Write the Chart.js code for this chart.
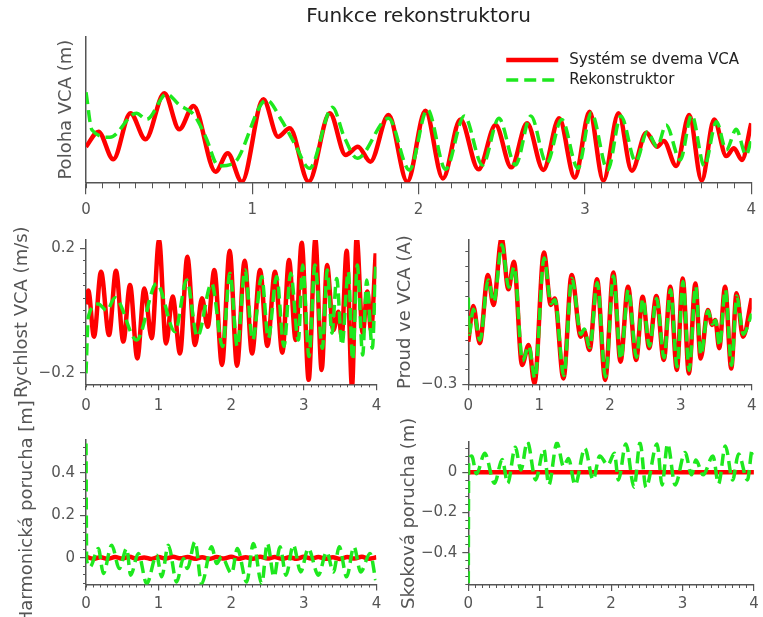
<!DOCTYPE html>
<html>
<head>
<meta charset="utf-8">
<script src="https://cdn.jsdelivr.net/npm/chart.js@4.4.0/dist/chart.umd.min.js"></script>
<style>
  body { margin: 0; background: #fff; }
  #wrap { position: relative; width: 763px; height: 617px; }
  canvas { position: absolute; left: 0; top: 0; }
</style>
</head>
<body>
<div id="wrap">
  <canvas id="c1" width="763" height="617"></canvas>
  <canvas id="c2" width="763" height="617"></canvas>
  <canvas id="c3" width="763" height="617"></canvas>
  <canvas id="c4" width="763" height="617"></canvas>
  <canvas id="c5" width="763" height="617"></canvas>
</div>
<script>
// tick labels
const xMajor = [0, 1, 2, 3, 4];
const velTicks = [-0.2, 0.2];
const curTicks = [-0.3];
const harmTicks = [0, 0.2, 0.4];
const stepTicks = [-0.4, -0.2, 0];

// Poloha VCA
const posTRed = [0, 0.075, 0.164, 0.267, 0.358, 0.471, 0.561, 0.646, 0.779, 0.852, 0.937, 1.066, 1.155, 1.225, 1.339, 1.466, 1.561, 1.635, 1.710, 1.819, 1.932, 2.041, 2.146, 2.251, 2.360, 2.463, 2.557, 2.652, 2.750, 2.845, 2.939, 3.028, 3.111, 3.202, 3.282, 3.369, 3.434, 3.474, 3.549, 3.627, 3.702, 3.777, 3.850, 3.896, 3.944, 4.0];
const posRed = [0.245, 0.348, 0.158, 0.475, 0.296, 0.613, 0.365, 0.525, 0.073, 0.2, 0.004, 0.571, 0.314, 0.372, 0.004, 0.475, 0.188, 0.245, 0.142, 0.463, 0.004, 0.493, 0.027, 0.433, 0.089, 0.394, 0.103, 0.406, 0.085, 0.44, 0.032, 0.486, 0.011, 0.475, 0.08, 0.341, 0.245, 0.284, 0.112, 0.463, 0.011, 0.433, 0.181, 0.234, 0.153, 0.406];
const posTGreen = [0, 0.036, 0.144, 0.303, 0.365, 0.485, 0.561, 0.65, 0.719, 0.798, 0.888, 1.086, 1.175, 1.254, 1.344, 1.482, 1.552, 1.631, 1.819, 1.945, 2.053, 2.162, 2.275, 2.384, 2.483, 2.582, 2.675, 2.770, 2.860, 2.958, 3.038, 3.137, 3.216, 3.306, 3.375, 3.434, 3.488, 3.573, 3.642, 3.718, 3.791, 3.850, 3.910, 3.969, 4.0];
const posGreen = [0.62, 0.36, 0.31, 0.475, 0.433, 0.608, 0.532, 0.463, 0.314, 0.112, 0.131, 0.566, 0.429, 0.268, 0.096, 0.516, 0.314, 0.165, 0.44, 0.085, 0.502, 0.089, 0.456, 0.119, 0.44, 0.119, 0.456, 0.131, 0.433, 0.096, 0.479, 0.085, 0.456, 0.142, 0.348, 0.245, 0.394, 0.153, 0.463, 0.112, 0.417, 0.222, 0.365, 0.188, 0.291];

// Rychlost VCA
const velTRed = [0, 0.032, 0.11, 0.207, 0.317, 0.413, 0.514, 0.606, 0.707, 0.804, 0.905, 1.006, 1.102, 1.194, 1.295, 1.396, 1.501, 1.598, 1.676, 1.768, 1.873, 1.979, 2.08, 2.185, 2.287, 2.397, 2.498, 2.603, 2.704, 2.796, 2.888, 2.971, 3.067, 3.159, 3.246, 3.32, 3.407, 3.476, 3.522, 3.59, 3.664, 3.728, 3.811, 3.875, 3.926, 3.99];
const velRed = [0.02, 0.064, -0.084, 0.125, -0.079, 0.128, -0.1, 0.082, -0.154, 0.071, -0.089, 0.227, -0.106, 0.045, -0.138, 0.173, -0.111, 0.039, -0.052, 0.13, -0.175, 0.192, -0.178, 0.16, -0.138, 0.13, -0.114, 0.125, -0.136, 0.162, -0.095, 0.218, -0.223, 0.229, -0.191, 0.146, -0.063, -0.004, -0.084, 0.192, -0.245, 0.235, -0.073, 0.061, -0.063, 0.184];
const velTGreen = [0, 0.032, 0.17, 0.285, 0.4, 0.698, 0.973, 1.226, 1.387, 1.534, 1.731, 1.882, 1.983, 2.084, 2.19, 2.296, 2.42, 2.511, 2.626, 2.727, 2.819, 2.925, 2.984, 3.072, 3.154, 3.255, 3.324, 3.388, 3.453, 3.526, 3.613, 3.673, 3.737, 3.811, 3.866, 3.944, 3.99];
const velGreen = [-0.202, -0.02, 0.021, 0.0, 0.041, -0.095, 0.087, -0.068, 0.098, -0.084, 0.087, -0.116, 0.12, -0.116, 0.13, -0.095, 0.109, -0.089, 0.109, -0.116, 0.12, -0.095, 0.146, -0.148, 0.146, -0.121, 0.13, -0.073, 0.103, -0.111, 0.125, -0.159, 0.146, -0.143, 0.098, -0.121, 0.146];

// Proud ve VCA
const curTRed = [0, 0.07, 0.162, 0.277, 0.355, 0.47, 0.566, 0.644, 0.759, 0.851, 0.934, 1.067, 1.164, 1.219, 1.343, 1.458, 1.587, 1.633, 1.711, 1.817, 1.932, 2.047, 2.148, 2.254, 2.369, 2.46, 2.552, 2.654, 2.759, 2.851, 2.943, 3.026, 3.113, 3.205, 3.279, 3.38, 3.44, 3.486, 3.541, 3.624, 3.711, 3.785, 3.877, 4.0];
const curRed = [-0.155, -0.034, -0.16, 0.072, -0.03, 0.196, 0.023, 0.117, -0.234, -0.166, -0.297, 0.148, -0.03, -0.008, -0.28, 0.072, -0.138, -0.117, -0.183, 0.057, -0.285, 0.08, -0.223, 0.032, -0.217, -0.002, -0.177, 0.0, -0.217, 0.032, -0.251, 0.06, -0.263, 0.043, -0.212, -0.047, -0.098, -0.081, -0.177, 0.032, -0.246, 0.01, -0.138, -0.007];
const curTGreen = [0, 0.012, 0.07, 0.165, 0.28, 0.36, 0.475, 0.57, 0.648, 0.765, 0.855, 0.94, 1.07, 1.168, 1.222, 1.347, 1.462, 1.59, 1.637, 1.715, 1.82, 1.936, 2.05, 2.152, 2.258, 2.373, 2.464, 2.556, 2.658, 2.763, 2.855, 2.947, 3.03, 3.117, 3.209, 3.283, 3.384, 3.444, 3.49, 3.545, 3.628, 3.715, 3.789, 3.881, 4.0];
const curGreen = [-0.005, -0.13, -0.045, -0.15, 0.055, -0.02, 0.175, 0.03, 0.1, -0.22, -0.17, -0.28, 0.13, -0.025, -0.012, -0.27, 0.06, -0.13, -0.112, -0.175, 0.045, -0.275, 0.068, -0.215, 0.022, -0.208, -0.01, -0.17, -0.008, -0.21, 0.022, -0.24, 0.05, -0.252, 0.033, -0.2, -0.05, -0.095, -0.082, -0.17, 0.022, -0.235, 0.0, -0.13, -0.06];

// Harmonická porucha
const harmTRed = [0, 0.1, 0.2, 0.3, 0.4, 0.5, 0.6, 0.7, 0.8, 0.9, 1.0, 1.1, 1.2, 1.3, 1.4, 1.5, 1.6, 1.7, 1.8, 1.9, 2.0, 2.1, 2.2, 2.3, 2.4, 2.5, 2.6, 2.7, 2.8, 2.9, 3.0, 3.1, 3.2, 3.3, 3.4, 3.5, 3.6, 3.7, 3.8, 3.9, 4.0];
const harmRed = [0.006, -0.004, 0.003, -0.005, 0.004, -0.003, 0.005, -0.004, 0.002, -0.005, 0.004, -0.003, 0.005, -0.002, 0.004, -0.004, 0.003, -0.005, 0.004, -0.003, 0.005, -0.004, 0.003, -0.004, 0.005, -0.003, 0.004, -0.005, 0.003, -0.004, 0.005, -0.003, 0.004, -0.004, 0.003, -0.005, 0.004, -0.003, 0.005, -0.004, 0.003];
const harmTGreen = [0, 0.009, 0.055, 0.17, 0.239, 0.354, 0.459, 0.56, 0.615, 0.721, 0.836, 0.973, 1.042, 1.134, 1.249, 1.341, 1.396, 1.501, 1.593, 1.731, 1.8, 1.869, 2.006, 2.085, 2.213, 2.305, 2.42, 2.498, 2.59, 2.672, 2.755, 2.856, 2.957, 3.062, 3.2, 3.315, 3.407, 3.489, 3.59, 3.691, 3.783, 3.912, 3.99];
const harmGreen = [0.538, -0.011, -0.042, 0.044, -0.073, 0.06, -0.05, 0.044, -0.081, 0.021, -0.121, 0.013, -0.089, 0.06, -0.113, -0.003, -0.05, 0.076, -0.121, 0.052, -0.026, 0.005, -0.073, 0.044, -0.113, 0.068, -0.121, 0.068, -0.089, 0.052, -0.081, 0.06, -0.066, 0.044, -0.081, 0.028, -0.066, 0.052, -0.089, 0.052, -0.066, 0.021, -0.105];

// Skoková porucha
const stepTRed = [0, 4];
const stepRed = [0, 0];
const stepTGreen = [0, 0.005, 0.047, 0.115, 0.23, 0.368, 0.474, 0.552, 0.658, 0.736, 0.828, 0.943, 1.058, 1.127, 1.242, 1.334, 1.403, 1.495, 1.633, 1.748, 1.84, 1.954, 2.046, 2.102, 2.207, 2.322, 2.405, 2.488, 2.644, 2.713, 2.791, 2.897, 3.035, 3.127, 3.187, 3.288, 3.426, 3.504, 3.6, 3.702, 3.784, 3.909, 3.977, 4.0];
const stepGreen = [-0.552, 0.045, 0.081, -0.008, 0.094, -0.055, 0.064, -0.055, 0.124, 0.011, 0.152, -0.038, 0.114, -0.063, 0.147, 0.028, 0.069, -0.063, 0.119, -0.038, 0.081, 0.036, 0.094, -0.038, 0.141, -0.075, 0.147, -0.075, 0.141, -0.063, 0.141, -0.063, 0.098, -0.013, 0.061, -0.013, 0.081, -0.058, 0.131, -0.038, 0.091, -0.038, 0.111, 0.09];

const RED = "#ff0000";
const GREEN = "#1ee81e";
const AXIS = "#555555";
const TXT = "#555555";

Chart.defaults.font.family = "'DejaVu Sans', sans-serif";
Chart.defaults.font.size = 15;
Chart.defaults.color = TXT;

function points(ts, vs) {
    return ts.map((t, i) => ({ x: t, y: vs[i] }));
}

function range(a, b, step) {
    const out = [];
    for (let v = a; v <= b + 1e-9; v += step) out.push(Math.round(v * 1000) / 1000);
    return out;
}

function fmt(v) {
    return (v < 0 ? "\u2212" : "") + Math.abs(v);
}

// legend drawn inside the top plot
const insideLegend = {
    id: "insideLegend",
    afterDraw(chart) {
        if (!chart.options.plugins.insideLegend) return;
        const ctx = chart.ctx;
        const area = chart.chartArea;
        const rows = [chart.data.datasets[1], chart.data.datasets[0]];
        ctx.save();
        ctx.font = "15px 'DejaVu Sans'";
        ctx.textBaseline = "middle";
        ctx.fillStyle = "#222";
        rows.forEach((ds, i) => {
            const y = area.top + 23 + i * 20;
            const x0 = area.right - 245;
            ctx.strokeStyle = ds.borderColor;
            ctx.lineWidth = ds.borderWidth;
            ctx.setLineDash(ds.borderDash || []);
            ctx.beginPath();
            ctx.moveTo(x0, y);
            ctx.lineTo(x0 + 52, y);
            ctx.stroke();
            ctx.setLineDash([]);
            ctx.fillText(ds.label, x0 + 63, y);
        });
        ctx.restore();
    }
};

function makePanel(o) {
    const yw = o.L - o.yTitleX + 10.8;
    const xh = o.xh || 30;
    const scales = {
        x: {
            type: "linear", position: "bottom", min: 0, max: 4, weight: 1,
            afterBuildTicks: s => { s.ticks = xMajor.map(v => ({ value: v })); },
            afterFit: s => { s.height = xh; },
            border: { color: AXIS, width: 1.5 },
            grid: { drawOnChartArea: false, tickLength: o.xLen[1], color: AXIS, lineWidth: 1.2 },
            ticks: { padding: o.xPad, autoSkip: false, maxRotation: 0, color: TXT, callback: fmt }
        },
        xMinor: {
            type: "linear", position: "bottom", min: 0, max: 4, weight: 0,
            afterBuildTicks: s => { s.ticks = range(0, 4, 0.1).map(v => ({ value: v })); },
            afterFit: s => { s.height = 0; },
            border: { display: false },
            grid: { drawOnChartArea: false, tickLength: o.xLen[0], color: AXIS, lineWidth: 1 },
            ticks: { display: false }
        },
        y: {
            type: "linear", position: "left", min: o.yMin, max: o.yMax, weight: 1,
            afterFit: s => { s.width = yw; },
            border: { color: AXIS, width: 1.5 },
            grid: { drawOnChartArea: false, drawTicks: !!o.yTicks, tickLength: 6, color: AXIS, lineWidth: 1.2 },
            ticks: { display: !!o.yTicks, padding: 5, autoSkip: false, color: TXT, callback: fmt },
            title: { display: true, text: o.yTitle, font: { size: 18 }, padding: 0, color: TXT }
        }
    };
    if (o.yTicks) {
        scales.y.afterBuildTicks = s => { s.ticks = o.yTicks.map(v => ({ value: v })); };
        scales.yMinor = {
            type: "linear", position: "left", min: o.yMin, max: o.yMax, weight: 0,
            afterBuildTicks: s => { s.ticks = o.yMinor.map(v => ({ value: v })); },
            afterFit: s => { s.width = 0; },
            border: { display: false },
            grid: { drawOnChartArea: false, tickLength: 3, color: AXIS, lineWidth: 1 },
            ticks: { display: false }
        };
    }

    return new Chart(document.getElementById(o.id), {
        type: "line",
        data: {
            datasets: [
                {
                    label: "Rekonstruktor",
                    data: points(o.tGreen, o.green),
                    xAxisID: "x", yAxisID: "y",
                    borderColor: GREEN, borderWidth: 3.5, borderDash: [12, 6],
                    order: 0
                },
                {
                    label: "Systém se dvema VCA",
                    data: points(o.tRed, o.red),
                    xAxisID: "x", yAxisID: "y",
                    borderColor: RED, borderWidth: 4.5, borderJoinStyle: "round",
                    order: 1
                }
            ]
        },
        options: {
            responsive: false,
            animation: false,
            events: [],
            layout: {
                padding: { left: o.L - yw, right: 763 - o.R, top: o.title ? 0 : o.T, bottom: 617 - o.B - xh }
            },
            elements: {
                point: { radius: 0 },
                line: { cubicInterpolationMode: "monotone", fill: false }
            },
            plugins: {
                legend: { display: false },
                tooltip: { enabled: false },
                insideLegend: !!o.legend,
                title: {
                    display: !!o.title,
                    text: o.title || "",
                    fullSize: false,
                    color: "#222",
                    font: { size: 20, weight: "normal" },
                    padding: { top: 5, bottom: 8 }
                }
            },
            scales: scales
        },
        plugins: [insideLegend]
    });
}

makePanel({
    id: "c1", L: 86, R: 758.5, T: 37, B: 182.3, yMin: 0, yMax: 1,
    title: "Funkce rekonstruktoru", legend: true,
    yTitle: "Poloha VCA (m)", yTitleX: 66, xLen: [6, 12], xPad: 7, xh: 45,
    tRed: posTRed, red: posRed, tGreen: posTGreen, green: posGreen
});

makePanel({
    id: "c2", L: 86, R: 376.4, T: 240, B: 384.3, yMin: -0.2373, yMax: 0.2267,
    yTitle: "Rychlost VCA (m/s)", yTitleX: 22, yTicks: velTicks, yMinor: range(-0.2, 0.2, 0.04),
    xLen: [3, 6], xPad: 6.5,
    tRed: velTRed, red: velRed, tGreen: velTGreen, green: velGreen
});

makePanel({
    id: "c3", L: 468.3, R: 758.5, T: 240, B: 384.3, yMin: -0.3, yMax: 0.1908,
    yTitle: "Proud ve VCA (A)", yTitleX: 405, yTicks: curTicks, yMinor: range(-0.3, 0.15, 0.05),
    xLen: [3, 6], xPad: 6.5,
    tRed: curTRed, red: curRed, tGreen: curTGreen, green: curGreen
});

makePanel({
    id: "c4", L: 86, R: 376.4, T: 440, B: 584.5, yMin: -0.125, yMax: 0.554,
    yTitle: "Harmonická porucha [m]", yTitleX: 27, yTicks: harmTicks, yMinor: range(-0.12, 0.52, 0.04),
    xLen: [3, 6], xPad: 4.3,
    tRed: harmTRed, red: harmRed, tGreen: harmTGreen, green: harmGreen
});

makePanel({
    id: "c5", L: 468.3, R: 758.5, T: 441.7, B: 585, yMin: -0.561, yMax: 0.152,
    yTitle: "Skoková porucha (m)", yTitleX: 409, yTicks: stepTicks, yMinor: range(-0.56, 0.12, 0.04),
    xLen: [3, 6], xPad: 4.3,
    tRed: stepTRed, red: stepRed, tGreen: stepTGreen, green: stepGreen
});
</script>
</body>
</html>
